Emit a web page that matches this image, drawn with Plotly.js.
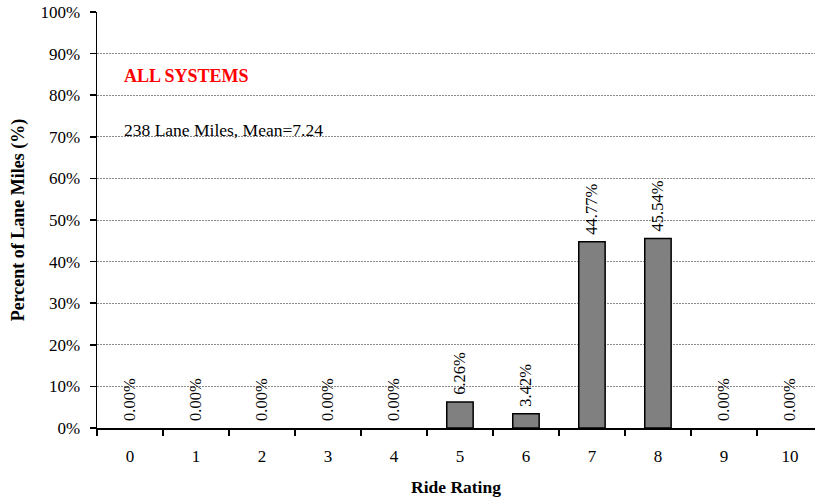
<!DOCTYPE html>
<html>
<head>
<meta charset="utf-8">
<script src="https://cdn.plot.ly/plotly-3.0.1.min.js"></script>
<style>html,body{margin:0;padding:0;background:#fff;}#chart{width:815px;height:501px;}</style>
</head>
<body>
<div id="chart"></div>
<script>
const ratings = ["0","1","2","3","4","5","6","7","8","9","10"];
const percents = [0, 0, 0, 0, 0, 6.26, 3.42, 44.77, 45.54, 0, 0];
const yTicks = [0,10,20,30,40,50,60,70,80,90,100];
const titleText = "ALL SYSTEMS";
const subText = "238 Lane Miles, Mean=7.24";

const serif = "Liberation Serif, Times New Roman, serif";

const trace = {
  type: "bar",
  x: ratings,
  y: percents,
  width: 0.4,
  marker: {color: "#808080", line: {color: "#000", width: percents.map(v => v > 0 ? 1.5 : 0)}},
  text: percents.map(v => "\u00a0" + v.toFixed(2) + "%"),
  textposition: "outside",
  textangle: -90,
  constraintext: "none",
  textfont: {family: serif, size: 16.5, color: "#000"},
  cliponaxis: false,
  hoverinfo: "none"
};

const layout = {
  width: 815, height: 501,
  margin: {l: 97, r: 0, t: 12, b: 73},
  paper_bgcolor: "#fff", plot_bgcolor: "#fff",
  showlegend: false,
  font: {family: serif, size: 17, color: "#000"},
  xaxis: {
    type: "category",
    range: [-0.5, 10.38],
    tickson: "boundaries",
    ticks: "outside", ticklen: 6, tickcolor: "#000", tickwidth: 1.5,
    ticklabelstandoff: 12,
    showline: true, linecolor: "#000", linewidth: 1.5,
    showgrid: false, zeroline: false,
    tickfont: {family: serif, size: 17},
    title: {text: "<b>Ride Rating</b>", font: {family: serif, size: 17.5}, standoff: 16}
  },
  yaxis: {
    range: [0, 100],
    tickvals: yTicks,
    ticktext: yTicks.map(v => v + "%"),
    ticks: "outside", ticklen: 6, tickcolor: "#000", tickwidth: 1.5,
    ticklabelstandoff: 6,
    showline: true, linecolor: "#000", linewidth: 1.5,
    showgrid: true, gridcolor: "#8a8a8a", gridwidth: 1, griddash: "2px,1px",
    zeroline: false,
    tickfont: {family: serif, size: 17},
    title: {text: "<b>Percent of Lane Miles (%)</b>", font: {family: serif, size: 18}, standoff: 11}
  },
  annotations: [
    {xref: "paper", yref: "paper", x: 0.035, y: 0.846, xanchor: "left", yanchor: "middle",
     text: "<b>" + titleText + "</b>", showarrow: false,
     font: {family: serif, size: 18, color: "#ff0000"}},
    {xref: "paper", yref: "paper", x: 0.035, y: 0.717, xanchor: "left", yanchor: "middle",
     text: subText, showarrow: false,
     font: {family: serif, size: 17.5, color: "#000"}}
  ]
};

Plotly.newPlot("chart", [trace], layout, {staticPlot: true, displayModeBar: false});
</script>
</body>
</html>
